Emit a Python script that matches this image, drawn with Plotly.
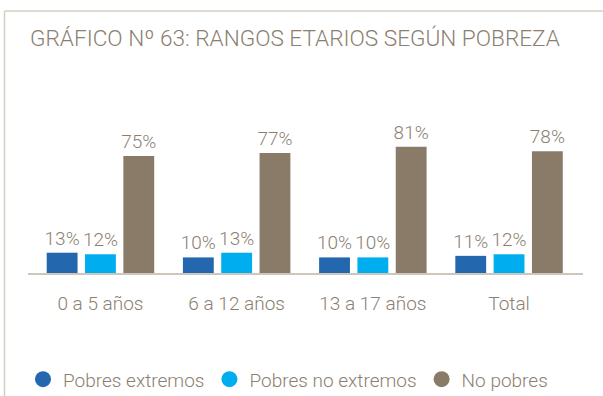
import plotly.graph_objects as go

# Data
categories = ["0 a 5 años", "6 a 12 años", "13 a 17 años", "Total"]
series_names = ["Pobres extremos", "Pobres no extremos", "No pobres"]
pobres_extremos = [13, 10, 10, 11]
pobres_no_extremos = [12, 13, 10, 12]
no_pobres = [75, 77, 81, 78]

colors = ["#2368ae", "#00adee", "#8a7b69"]
text_color = "#8c7f72"
line_color = "#cfc6bb"
font_family = "Roboto Light, Roboto"

fig = go.Figure()

for name, vals, col in zip(series_names,
                           [pobres_extremos, pobres_no_extremos, no_pobres],
                           colors):
    fig.add_trace(go.Bar(
        x=categories, y=vals, name=name,
        marker=dict(color=col, line=dict(width=0)),
        text=[f"{v}%" for v in vals],
        textposition="outside",
        constraintext="none",
        textfont=dict(family=font_family, size=19, color=text_color, weight=300),
        cliponaxis=False,
        showlegend=False,
    ))
    # circular legend entries
    fig.add_trace(go.Scatter(
        x=[None], y=[None], mode="markers", name=name,
        marker=dict(symbol="circle", size=17, color=col),
        showlegend=True,
    ))

# plot area: x 28..583 px, y 116.7..272.7 px
W, H = 603, 396
left, right, top, bottom = 28, W - 583, 116.7, H - 272.7
pw = W - left - right
ph = H - top - bottom

def px_x(p):
    return (p - left) / pw

def px_y(p):
    return (H - bottom - p) / ph

# frame lines (left and top)
fig.add_shape(type="line", xref="paper", yref="paper",
              x0=px_x(4.5), x1=px_x(W + 5), y0=px_y(10.8), y1=px_y(10.8),
              line=dict(color="#d6cec4", width=1.5))
fig.add_shape(type="line", xref="paper", yref="paper",
              x0=px_x(4.5), x1=px_x(4.5), y0=px_y(10.8), y1=px_y(H + 5),
              line=dict(color="#d6cec4", width=1.5))

fig.update_layout(
    width=W, height=H,
    margin=dict(l=left, r=right, t=top, b=bottom, autoexpand=False),
    paper_bgcolor="white", plot_bgcolor="white",
    barmode="group", bargap=0.156, bargroupgap=0.195,
    title=dict(
        text="GRÁFICO Nº 63: RANGOS ETARIOS SEGÚN POBREZA",
        x=30 / W, xanchor="left", xref="container",
        y=1 - 38 / H, yanchor="middle", yref="container",
        font=dict(family=font_family, size=22.6, color=text_color, weight=300),
    ),
    xaxis=dict(
        type="category", range=[-0.532, 3.543],
        showline=True, linecolor=line_color, linewidth=2,
        showgrid=False, ticks="", ticklabelstandoff=12,
        tickfont=dict(family=font_family, size=19, color=text_color, weight=300),
        fixedrange=True,
    ),
    yaxis=dict(range=[0, 100], visible=False, fixedrange=True),
    legend=dict(
        orientation="h", x=(23 - left) / pw, xanchor="left",
        y=px_y(379), yanchor="middle",
        font=dict(family=font_family, size=19, color=text_color, weight=300),
        bgcolor="rgba(0,0,0,0)",
    ),
)

fig.write_html("out.html")
